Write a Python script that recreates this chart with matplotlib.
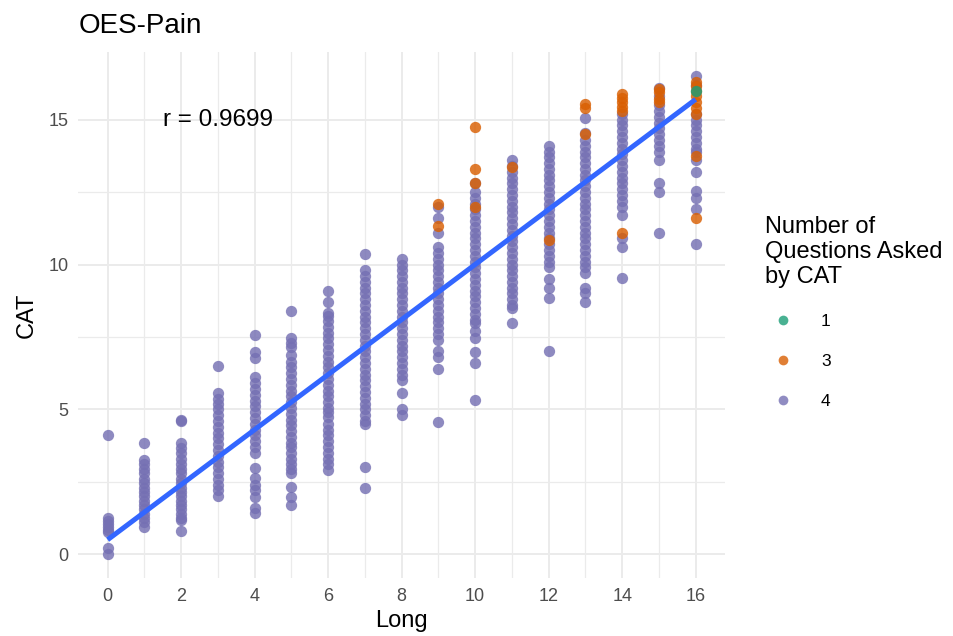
import numpy as np
import matplotlib
matplotlib.use("Agg")
import matplotlib.pyplot as plt
from matplotlib.lines import Line2D
from matplotlib.ticker import MultipleLocator

plt.rcParams['font.family'] = ['Liberation Sans', 'DejaVu Sans']

# CAT score per Long score (0..16), split by number of questions asked by CAT
cat_q4 = {
    0: [4.1, 1.25, 1.15, 1.05, 0.95, 0.85, 0.75, 0.2, 0.0],
    1: [3.83, 3.25, 3.1, 2.95, 2.8, 2.6, 2.45, 2.3, 2.15, 2.0, 1.85, 1.7, 1.55, 1.4, 1.25, 1.1, 0.95],
    2: [4.62, 4.6, 3.83, 3.65, 3.5, 3.3, 3.1, 2.95, 2.8, 2.6, 2.45, 2.3, 2.15, 2.0, 1.85, 1.7, 1.55,
        1.4, 1.25, 1.17, 0.8],
    3: [6.48, 5.55, 5.35, 5.2, 5.0, 4.8, 4.6, 4.4, 4.2, 4.0, 3.8, 3.6, 3.4, 3.2, 3.0, 2.8, 2.6, 2.4,
        2.2, 2.0],
    4: [7.55, 6.97, 6.76, 6.1, 5.9, 5.7, 5.5, 5.3, 5.1, 4.9, 4.7, 4.5, 4.3, 4.1, 3.9, 3.7, 3.5, 2.97,
        2.62, 2.38, 2.2, 1.97, 1.59, 1.41],
    5: [8.38, 7.45, 7.3, 7.14, 6.86, 6.65, 6.45, 6.25, 6.05, 5.85, 5.65, 5.45, 5.25, 5.05, 4.85, 4.65,
        4.45, 4.25, 4.05, 3.85, 3.69, 3.48, 3.3, 3.1, 2.95, 2.79, 2.31, 1.97, 1.69],
    6: [9.07, 8.7, 8.34, 8.24, 8.05, 7.85, 7.65, 7.45, 7.25, 7.05, 6.85, 6.65, 6.45, 6.25, 6.05, 5.85,
        5.65, 5.45, 5.25, 5.05, 4.9, 4.72, 4.5, 4.3, 4.1, 3.9, 3.7, 3.5, 3.3, 3.1, 2.9],
    7: [10.35, 9.8, 9.6, 9.4, 9.2, 9.0, 8.8, 8.6, 8.4, 8.2, 8.0, 7.8, 7.6, 7.4, 7.2, 7.0, 6.8, 6.6,
        6.4, 6.2, 6.0, 5.8, 5.6, 5.4, 5.2, 5.0, 4.8, 4.6, 4.5, 3.0, 2.3],
    8: [10.2, 10.0, 9.8, 9.6, 9.4, 9.2, 9.0, 8.8, 8.6, 8.4, 8.2, 8.0, 7.8, 7.6, 7.4, 7.2, 7.0, 6.8,
        6.6, 6.4, 6.2, 6.0, 5.55, 5.0, 4.8],
    9: [12.0, 11.6, 11.1, 10.6, 10.4, 10.2, 10.0, 9.8, 9.6, 9.4, 9.2, 9.0, 8.8, 8.6, 8.4, 8.2, 8.0,
        7.8, 7.6, 7.4, 7.0, 6.8, 6.4, 4.55],
    10: [12.8, 12.5, 12.3, 12.1, 11.9, 11.7, 11.5, 11.3, 11.1, 10.9, 10.7, 10.5, 10.3, 10.1, 9.9, 9.7,
         9.5, 9.3, 9.1, 8.9, 8.7, 8.5, 8.3, 8.1, 7.97, 7.7, 7.45, 6.97, 6.6, 5.34],
    11: [13.6, 13.4, 13.2, 13.0, 12.8, 12.6, 12.4, 12.2, 12.0, 11.8, 11.6, 11.4, 11.2, 11.0, 10.8,
         10.6, 10.4, 10.2, 10.0, 9.8, 9.6, 9.4, 9.2, 9.0, 8.8, 8.6, 8.5, 7.97],
    12: [14.1, 13.9, 13.7, 13.5, 13.3, 13.1, 12.9, 12.7, 12.5, 12.3, 12.1, 11.9, 11.7, 11.5, 11.3,
         11.1, 10.9, 10.7, 10.5, 10.3, 10.1, 9.9, 9.5, 9.2, 8.86, 7.03],
    13: [15.07, 14.55, 14.3, 14.1, 13.9, 13.7, 13.5, 13.3, 13.1, 12.9, 12.7, 12.5, 12.3, 12.1, 11.9,
         11.7, 11.5, 11.3, 11.1, 10.9, 10.7, 10.5, 10.3, 10.1, 9.9, 9.7, 9.2, 9.0, 8.7],
    14: [15.2, 15.0, 14.8, 14.6, 14.4, 14.2, 14.0, 13.8, 13.6, 13.4, 13.2, 13.0, 12.8, 12.6, 12.4,
         12.2, 12.0, 11.7, 10.9, 10.6, 9.55],
    15: [16.1, 15.8, 15.5, 15.3, 15.1, 14.9, 14.7, 14.5, 14.3, 14.1, 13.9, 13.6, 12.8, 12.5, 11.1],
    16: [16.5, 16.2, 15.2, 15.0, 14.8, 14.6, 14.4, 14.2, 14.0, 13.9, 13.6, 13.2, 12.55, 12.28,
         11.93, 10.7],
}
cat_q3 = {
    9: [12.1, 11.34],
    10: [14.75, 13.3, 12.8, 12.0],
    11: [13.35],
    12: [10.83],
    13: [15.55, 15.4, 14.5],
    14: [15.9, 15.75, 15.6, 15.45, 15.3, 11.1],
    15: [16.07, 15.95, 15.7, 15.6],
    16: [16.3, 16.15, 16.0, 15.8, 15.6, 15.4, 15.2, 13.76, 11.6],
}
cat_q1 = {
    16: [16.0],
}

# linear fit
fit_intercept = 0.5
fit_slope = 0.95
r_value = 0.9699

colors = {"1": "#1B9E77", "3": "#D95F02", "4": "#7570B3"}


def flatten(d):
    xs, ys = [], []
    for k, vals in d.items():
        xs.extend([k] * len(vals))
        ys.extend(vals)
    return np.array(xs), np.array(ys)


fig = plt.figure(figsize=(9.54, 6.36), dpi=100)
ax = fig.add_axes([0.082, 0.091, 0.678, 0.827])

for key, d in [("4", cat_q4), ("3", cat_q3), ("1", cat_q1)]:
    x, y = flatten(d)
    ax.scatter(x, y, s=66, color=colors[key], alpha=0.82, linewidths=0, zorder=3)

fx = np.array([0, 16])
ax.plot(fx, fit_intercept + fit_slope * fx, color="#3366FF", lw=3.6, zorder=4,
        solid_capstyle="butt")

ax.text(3, 15, "r = {:.4f}".format(r_value), fontsize=17.5, ha="center", va="center",
        zorder=5)

ax.set_xlim(-0.8, 16.8)
ax.set_ylim(-0.825, 17.33)
ax.xaxis.set_major_locator(MultipleLocator(2))
ax.xaxis.set_minor_locator(MultipleLocator(1))
ax.yaxis.set_major_locator(MultipleLocator(5))
ax.yaxis.set_minor_locator(MultipleLocator(2.5))
ax.grid(which="major", color="#EBEBEB", lw=1.4, zorder=0)
ax.grid(which="minor", color="#EBEBEB", lw=0.9, zorder=0)
ax.set_axisbelow(True)
for s in ax.spines.values():
    s.set_visible(False)
ax.tick_params(which="both", length=0)
ax.tick_params(axis="both", labelsize=13, colors="#4D4D4D", pad=7)

ax.set_xlabel("Long", fontsize=17, labelpad=4)
ax.set_ylabel("CAT", fontsize=17, labelpad=8)
ax.set_title("OES-Pain", fontsize=20, loc="left", pad=14)

handles = [Line2D([], [], marker="o", ls="", color=colors[k], alpha=0.8, markersize=7,
                  markeredgewidth=0) for k in ["1", "3", "4"]]
leg = fig.legend(handles, ["1", "3", "4"], title="Number of\nQuestions Asked\nby CAT",
                 loc="upper left", bbox_to_anchor=(0.795, 0.672), frameon=False,
                 fontsize=12.5, title_fontsize=17, labelspacing=1.45, handletextpad=1.2,
                 borderaxespad=0)
leg._legend_box.align = "left"

fig.savefig("out.png", dpi=100)
